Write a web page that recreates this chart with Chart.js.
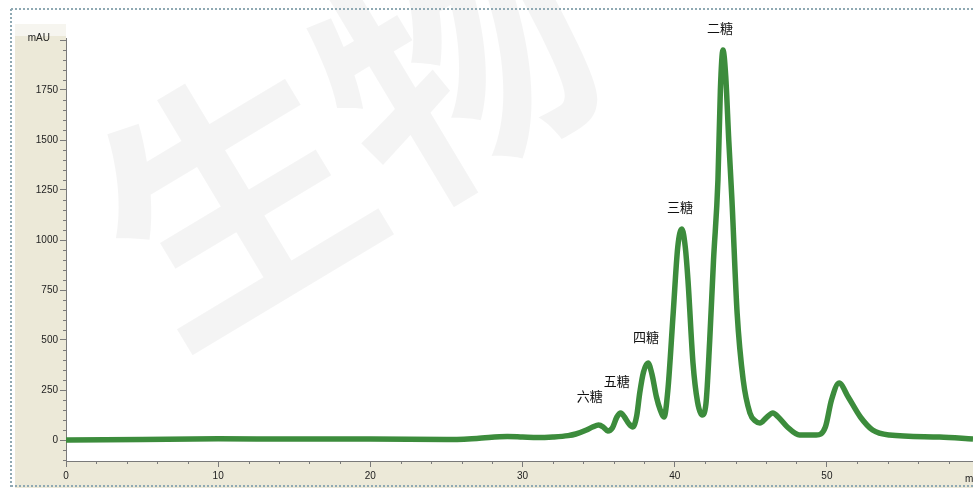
<!DOCTYPE html>
<html>
<head>
<meta charset="utf-8">
<script src="https://cdn.jsdelivr.net/npm/chart.js@4.4.1/dist/chart.umd.min.js"></script>
<style>
  body { margin: 0; background: #fff; }
  canvas { display: block; }
</style>
</head>
<body>
<canvas id="chromatogram" width="973" height="488"></canvas>
<script>
// ========== chromatogram data (min / mAU) ==========
const retentionTime = [
  0, 5, 10, 15, 20, 25, 27, 29, 30, 31, 32, 33, 33.5, 34.2, 34.6, 35.0, 35.3, 35.6, 35.9,
  36.2, 36.45, 36.7, 37.0, 37.25, 37.5, 37.7, 37.95, 38.25, 38.5, 38.8, 39.05, 39.3,
  39.55, 39.9, 40.2, 40.47, 40.7, 40.87, 41.2, 41.5, 41.8, 42.05, 42.3, 42.55, 42.84,
  43.0, 43.17, 43.35, 43.55, 43.76, 44.1, 44.5, 44.94, 45.3, 45.6, 46.0, 46.45, 46.8,
  47.4, 48.2, 49.3, 49.9, 50.3, 50.8, 51.4, 52.2, 53.0, 54.1, 57.4, 59.6
]
const absorbance = [
  0, 3, 6, 5, 5, 2, 8, 18, 15, 12, 15, 22, 30, 50, 65, 75, 65, 45, 60,
  115, 135, 115, 80, 65, 120, 235, 340, 385, 330, 215, 150, 115,
  250, 635, 965, 1055, 960, 800, 385, 190, 125, 180, 500, 900, 1300,
  1750, 1950, 1820, 1500, 1200, 635, 300, 135, 95, 85, 110, 135, 115,
  65, 25, 25, 65, 200, 285, 215, 115, 50, 25, 15, 5
]

// peak annotations
const peakNames = ['六糖', '五糖', '四糖', '三糖', '二糖']
const peakTimes = [35.0, 36.45, 38.25, 40.47, 43.17]
const peakHeights = [75, 135, 385, 1055, 1950]

// axis ticks
const xMajorTicks = [0, 10, 20, 30, 40, 50]
const yMajorTicks = [0, 250, 500, 750, 1000, 1250, 1500, 1750, 2000]

// label nudges in pixels (dx, dy) from each peak top
const labelOffsets = [[-9, -29], [-4, -32], [-2, -26], [-2, -22], [-3, -22]]

const PANEL = '#ece9d8'
const AXIS = '#7a7a7a'
const TICK_FONT = { family: 'Liberation Sans, Arial, sans-serif', size: 10 }

// ========== background, frame and watermark ==========
const framePlugin = {
  id: 'frame',
  beforeDraw(chart) {
    const c = chart.ctx
    const W = chart.width, H = chart.height
    c.save()
    c.fillStyle = '#fff'
    c.fillRect(0, 0, W, H)
    // beige axis panels
    c.fillStyle = '#f6f5ef'
    c.fillRect(15, 24, 51, 12)
    c.fillStyle = PANEL
    c.fillRect(15, 36, 51, H - 36)
    c.fillRect(15, 462, W - 15, H - 462)

    // faint watermark
    c.translate(345, 130)
    c.rotate(-31 * Math.PI / 180)
    c.fillStyle = 'rgba(0,0,0,0.045)'
    c.font = 'bold 260px "Noto Sans CJK SC"'
    c.textAlign = 'center'
    c.textBaseline = 'middle'
    c.fillText('生物', 0, 0)
    c.restore()

    // dotted frame
    c.save()
    c.strokeStyle = '#8fa9b3'
    c.lineWidth = 2
    c.setLineDash([2, 2])
    c.beginPath()
    c.moveTo(11, 9); c.lineTo(W, 9)
    c.moveTo(11, 9); c.lineTo(11, H)
    c.moveTo(11, 486); c.lineTo(W, 486)
    c.stroke()
    c.restore()
  },
  afterDraw(chart) {
    const c = chart.ctx
    const xs = chart.scales.x, ys = chart.scales.y
    const area = chart.chartArea
    c.save()
    // minor ticks
    c.strokeStyle = AXIS
    c.lineWidth = 1
    c.beginPath()
    for (let t = 2; t <= 58; t += 2) {
      if (t % 10 === 0) continue
      const px = Math.round(xs.getPixelForValue(t)) + 0.5
      c.moveTo(px, area.bottom); c.lineTo(px, area.bottom + 3)
    }
    for (let v = -100; v <= 2000; v += 50) {
      if (v % 250 === 0) continue
      const py = Math.round(ys.getPixelForValue(v)) + 0.5
      c.moveTo(area.left - 3, py); c.lineTo(area.left, py)
    }
    c.stroke()

    // axis units
    c.fillStyle = '#222'
    c.font = '10px Liberation Sans, Arial, sans-serif'
    c.textBaseline = 'middle'
    c.textAlign = 'right'
    c.fillText('mAU', 50, 38)
    c.textAlign = 'left'
    c.fillText('min', 965, 479)

    // peak names
    c.fillStyle = '#111'
    c.font = '13px "Noto Sans CJK SC"'
    c.textAlign = 'center'
    for (let i = 0; i < peakNames.length; i++) {
      const px = xs.getPixelForValue(peakTimes[i]) + labelOffsets[i][0]
      const py = ys.getPixelForValue(peakHeights[i]) + labelOffsets[i][1]
      c.fillText(peakNames[i], px, py)
    }
    c.restore()
  }
}

const points = []
for (let i = 0; i < retentionTime.length; i++) {
  points.push({ x: retentionTime[i], y: absorbance[i] })
}

new Chart(document.getElementById('chromatogram'), {
  type: 'scatter',
  data: {
    datasets: [{
      data: points,
      showLine: true,
      borderColor: '#3c8c3c',
      borderWidth: 5.5,
      pointRadius: 0,
      cubicInterpolationMode: 'monotone',
      fill: false
    }]
  },
  options: {
    responsive: false,
    animation: false,
    layout: { padding: { left: 0, right: 0, top: 38, bottom: 0 } },
    plugins: { legend: { display: false }, tooltip: { enabled: false } },
    scales: {
      x: {
        type: 'linear',
        min: 0,
        max: 59.6,
        afterBuildTicks: s => { s.ticks = xMajorTicks.map(v => ({ value: v })) },
        afterFit: s => { s.height = 27 },
        grid: { drawOnChartArea: false, tickLength: 6, color: AXIS },
        border: { color: AXIS },
        ticks: { font: TICK_FONT, color: '#222', padding: 3, maxRotation: 0, autoSkip: false }
      },
      y: {
        min: -105,
        max: 2010,
        afterBuildTicks: s => { s.ticks = yMajorTicks.map(v => ({ value: v })) },
        afterFit: s => { s.width = 66 },
        grid: { drawOnChartArea: false, tickLength: 6, color: AXIS },
        border: { color: AXIS },
        ticks: {
          font: TICK_FONT, color: '#222', padding: 2, autoSkip: false,
          callback: v => v === 2000 ? '' : v
        }
      }
    }
  },
  plugins: [framePlugin]
})
</script>
</body>
</html>
